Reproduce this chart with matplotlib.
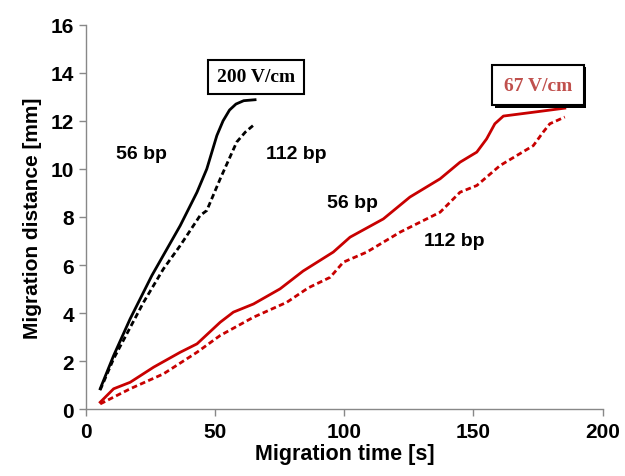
import matplotlib
matplotlib.use("Agg")
import matplotlib.pyplot as plt
from matplotlib import patheffects as pe

# 200 V/cm, 56 bp (solid black)
t_b56 = [5.4, 10.6, 17.0, 25.4, 36.4, 42.9, 46.7, 50.6, 53.0, 55.5, 58.0, 61.0, 65.4]
d_b56 = [0.85, 2.23, 3.76, 5.56, 7.64, 9.03, 10.0, 11.39, 12.0, 12.45, 12.70, 12.84, 12.88]
# 200 V/cm, 112 bp (dashed black)
t_b112 = [5.4, 10.6, 22.2, 29.9, 36.4, 44.1, 46.7, 51.9, 58.3, 61.6, 65.0]
d_b112 = [0.80, 2.10, 4.45, 5.84, 6.81, 8.06, 8.27, 9.59, 11.12, 11.53, 11.84]
# 67 V/cm, 56 bp (solid red)
t_r56 = [5.4, 10.6, 17.0, 26.1, 36.4, 42.9, 51.9, 57.0, 64.8, 75.1, 84.0, 95.7,
         102.2, 115.1, 125.4, 137.1, 144.8, 151.3, 155.1, 158.3, 161.6, 173.2, 185.4]
d_r56 = [0.29, 0.85, 1.12, 1.75, 2.37, 2.72, 3.62, 4.04, 4.38, 5.01, 5.75, 6.54,
         7.16, 7.92, 8.83, 9.59, 10.28, 10.70, 11.25, 11.88, 12.20, 12.36, 12.53]
# 67 V/cm, 112 bp (dashed red)
t_r112 = [5.4, 17.0, 29.9, 42.9, 51.9, 64.8, 77.7, 86.0, 94.5, 99.6, 108.7, 121.6,
          137.1, 144.8, 151.3, 160.3, 173.2, 177.0, 179.6, 185.4]
d_r112 = [0.22, 0.85, 1.47, 2.37, 3.07, 3.83, 4.45, 5.05, 5.49, 6.12, 6.54, 7.37,
          8.20, 9.03, 9.31, 10.14, 10.97, 11.53, 11.88, 12.16]

x_ticks = [0, 50, 100, 150, 200]
y_ticks = [0, 2, 4, 6, 8, 10, 12, 14, 16]

RED = "#c80000"
FONT = "Liberation Sans"

fig = plt.figure(figsize=(6.25, 4.77), dpi=100)
ax = fig.add_axes([0.138, 0.140, 0.826, 0.806])

ax.plot(t_b56, d_b56, color="black", lw=2.0, solid_joinstyle="round")
ax.plot(t_b112, d_b112, color="black", lw=2.0, dashes=(2, 1.2))
ax.plot(t_r56, d_r56, color=RED, lw=2.0, solid_joinstyle="round")
ax.plot(t_r112, d_r112, color=RED, lw=2.0, dashes=(2, 1.2))

ax.set_xlim(0, 200)
ax.set_ylim(0, 16)
ax.set_xticks(x_ticks)
ax.set_yticks(y_ticks)
for s in ["top", "right"]:
    ax.spines[s].set_visible(False)
for s in ["left", "bottom"]:
    ax.spines[s].set_color("#888888")
    ax.spines[s].set_linewidth(1.0)
ax.tick_params(direction="out", length=5, width=1, color="#888888", pad=4)
for lab in ax.get_xticklabels() + ax.get_yticklabels():
    lab.set_fontfamily(FONT)
    lab.set_fontweight("bold")
    lab.set_fontsize(15)

ax.set_xlabel("Migration time [s]", fontfamily=FONT, fontweight="bold", fontsize=15.5, labelpad=2)
ax.set_ylabel("Migration distance [mm]", fontfamily=FONT, fontweight="bold", fontsize=15, labelpad=6)

lab_kw = dict(fontfamily=FONT, fontweight="bold", fontsize=14, ha="center", va="center")
ax.text(21.3, 10.63, "56 bp", **lab_kw)
ax.text(81.3, 10.63, "112 bp", **lab_kw)
ax.text(103.2, 8.62, "56 bp", **lab_kw)
ax.text(142.5, 7.02, "112 bp", **lab_kw)

t1 = ax.text(65.8, 13.83, "200 V/cm", fontfamily="Liberation Serif", fontweight="bold",
             fontsize=14, ha="center", va="center", color="black",
             bbox=dict(boxstyle="square,pad=0.45", fc="white", ec="black", lw=1.5))
t2 = ax.text(175.1, 13.48, "67 V/cm", fontfamily="Liberation Serif", fontweight="bold",
             fontsize=14, ha="center", va="center", color="#c0504d",
             bbox=dict(boxstyle="square,pad=0.6", fc="white", ec="black", lw=1.5))
t2.get_bbox_patch().set_path_effects([
    pe.SimplePatchShadow(offset=(1.5, -1.5), shadow_rgbFace="black", alpha=1.0),
    pe.Normal()])

fig.savefig("out.png", dpi=100)
